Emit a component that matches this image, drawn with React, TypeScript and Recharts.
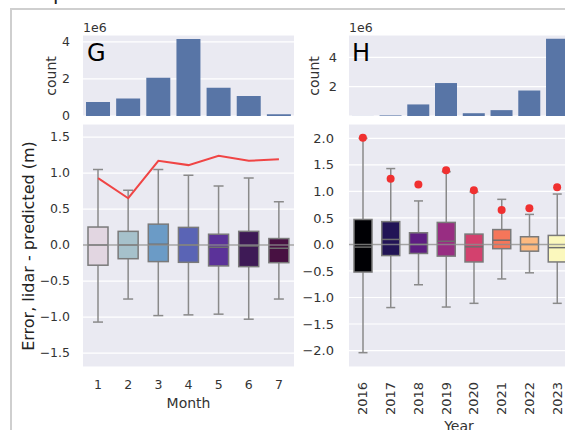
import React from 'react';
import {
  BarChart,
  ComposedChart,
  Bar,
  Line,
  XAxis,
  YAxis,
  CartesianGrid,
  ReferenceLine,
} from 'recharts';

// panel G: by month
const MONTHS = ['1', '2', '3', '4', '5', '6', '7'];
const MONTH_COUNTS = [0.76e6, 0.94e6, 2.07e6, 4.16e6, 1.53e6, 1.08e6, 0.1e6];
const MONTH_LOW = [-1.07, -0.75, -0.98, -0.97, -0.96, -1.03, -0.75];
const MONTH_Q1 = [-0.28, -0.19, -0.23, -0.24, -0.29, -0.3, -0.245];
const MONTH_MED = [0.0, 0.0, 0.01, 0.0, -0.03, -0.015, -0.045];
const MONTH_Q3 = [0.25, 0.19, 0.29, 0.245, 0.15, 0.19, 0.09];
const MONTH_HIGH = [1.05, 0.76, 1.05, 0.97, 0.82, 0.93, 0.6];
const MONTH_PEAK = [0.93, 0.65, 1.17, 1.11, 1.24, 1.17, 1.19];
const MONTH_COLORS = ['#e2d6e1', '#a6c1cb', '#6b9bc6', '#5a64b5', '#5b3299', '#3e1a56', '#481142'];

// panel H: by year
const YEARS = ['2016', '2017', '2018', '2019', '2020', '2021', '2022', '2023'];
const YEAR_COUNTS = [0.005e6, 0.04e6, 0.79e6, 2.25e6, 0.19e6, 0.4e6, 1.74e6, 5.27e6];
const YEAR_LOW = [-2.04, -1.19, -0.76, -1.18, -1.11, -0.65, -0.535, -1.11];
const YEAR_Q1 = [-0.52, -0.21, -0.17, -0.22, -0.33, -0.08, -0.127, -0.33];
const YEAR_MED = [-0.05, 0.094, 0.0, 0.06, -0.045, 0.08, 0.0, -0.06];
const YEAR_Q3 = [0.47, 0.43, 0.22, 0.415, 0.195, 0.28, 0.145, 0.17];
const YEAR_HIGH = [2.0, 1.43, 0.82, 1.37, 0.99, 0.85, 0.566, 0.95];
const YEAR_PEAK = [2.01, 1.24, 1.13, 1.4, 1.02, 0.65, 0.68, 1.08];
const YEAR_COLORS = ['#000004', '#221456', '#5e1d82', '#982d82', '#d3416e', '#f5765a', '#fdb97f', '#fbf8bd'];

const monthData = MONTHS.map((name, i) => ({
  name,
  count: MONTH_COUNTS[i],
  box: [MONTH_Q1[i], MONTH_Q3[i]],
  low: MONTH_LOW[i],
  q1: MONTH_Q1[i],
  med: MONTH_MED[i],
  q3: MONTH_Q3[i],
  high: MONTH_HIGH[i],
  peak: MONTH_PEAK[i],
  color: MONTH_COLORS[i],
}));

const yearData = YEARS.map((name, i) => ({
  name,
  count: YEAR_COUNTS[i],
  box: [YEAR_Q1[i], YEAR_Q3[i]],
  low: YEAR_LOW[i],
  q1: YEAR_Q1[i],
  med: YEAR_MED[i],
  q3: YEAR_Q3[i],
  high: YEAR_HIGH[i],
  peak: YEAR_PEAK[i],
  color: YEAR_COLORS[i],
}));

const BG = '#eaeaf2';
const TXT = '#333';
const GRAY = '#8a8a8a';
const BAR_BLUE = '#5875a6';

const fmtErr = (v: number) => (Math.abs(v) < 1e-9 ? '0.0' : v.toFixed(1).replace('-', '\u2212'));
const fmtCount = (v: number) => String(Math.round(v / 1e6));

// box drawn from the q1..q3 range bar; whiskers scaled off the bar's own pixels
function BoxShape(props: any) {
  const { x, y, width, height, payload } = props;
  const top = Math.min(y, y + height);
  const h = Math.abs(height);
  const ppu = h / (payload.q3 - payload.q1);
  const toY = (v: number) => top + (payload.q3 - v) * ppu;
  const cx = x + width / 2;
  const cap = width / 4;
  return (
    <g>
      <line x1={cx} x2={cx} y1={toY(payload.high)} y2={top} stroke={GRAY} strokeWidth={1.5} />
      <line x1={cx} x2={cx} y1={top + h} y2={toY(payload.low)} stroke={GRAY} strokeWidth={1.5} />
      <line x1={cx - cap} x2={cx + cap} y1={toY(payload.high)} y2={toY(payload.high)} stroke={GRAY} strokeWidth={1.5} />
      <line x1={cx - cap} x2={cx + cap} y1={toY(payload.low)} y2={toY(payload.low)} stroke={GRAY} strokeWidth={1.5} />
      <rect x={x} y={top} width={width} height={h} fill={payload.color} stroke="#7a7a7a" strokeWidth={1.5} />
      <line x1={x} x2={x + width} y1={toY(payload.med)} y2={toY(payload.med)} stroke="#6e6e6e" strokeWidth={1.5} />
    </g>
  );
}

function YearTick({ x, y, payload }: any) {
  return (
    <text
      x={x}
      y={y}
      transform={`rotate(-90, ${x}, ${y})`}
      textAnchor="end"
      dominantBaseline="central"
      fontSize={13}
      fill={TXT}
    >
      {payload.value}
    </text>
  );
}

export default function App() {
  return (
    <div
      style={{
        position: 'absolute',
        left: 0,
        top: 0,
        width: 565,
        height: 430,
        overflow: 'hidden',
        background: '#fff',
        fontFamily: 'DejaVu Sans, sans-serif',
      }}
    >
      {/* G counts */}
      <div style={{ position: 'absolute', left: 0, top: 0 }}>
        <BarChart width={294} height={124} data={monthData} margin={{ top: 35, right: 0, bottom: 8, left: 0 }} barCategoryGap="10%">
          <CartesianGrid vertical={false} fill={BG} stroke="#fff" strokeWidth={1.2} />
          <XAxis dataKey="name" hide />
          <YAxis
            width={83}
            domain={[0, 4.37e6]}
            ticks={[0, 2e6, 4e6]}
            interval={0}
            tickFormatter={fmtCount}
            tick={{ fill: TXT, fontSize: 12.5 }}
            axisLine={false}
            tickLine={false}
            tickSize={0}
            tickMargin={13}
            allowDataOverflow
          />
          <Bar dataKey="count" fill={BAR_BLUE} isAnimationActive={false} />
        </BarChart>
      </div>

      {/* G error boxes */}
      <div style={{ position: 'absolute', left: 0, top: 0 }}>
        <ComposedChart width={294} height={430} data={monthData} margin={{ top: 124, right: 0, bottom: 0, left: 0 }}>
          <CartesianGrid vertical={false} fill={BG} stroke="#fff" strokeWidth={1.2} />
          <XAxis
            dataKey="name"
            height={63}
            axisLine={false}
            tickLine={false}
            tickSize={0}
            tickMargin={13}
            tick={{ fill: TXT, fontSize: 12.5 }}
          />
          <YAxis
            width={83}
            domain={[-1.694, 1.681]}
            ticks={[-1.5, -1, -0.5, 0, 0.5, 1, 1.5]}
            interval={0}
            tickFormatter={fmtErr}
            tick={{ fill: TXT, fontSize: 12.5 }}
            axisLine={false}
            tickLine={false}
            tickSize={0}
            tickMargin={13}
            allowDataOverflow
          />
          <Bar dataKey="box" barSize={20} shape={BoxShape} isAnimationActive={false} />
          <ReferenceLine y={0} stroke="#8c8c8c" strokeOpacity={0.8} strokeWidth={1.5} />
          <Line dataKey="peak" stroke="#f04545" strokeWidth={2} dot={false} isAnimationActive={false} />
        </ComposedChart>
      </div>

      {/* H counts */}
      <div style={{ position: 'absolute', left: 290, top: 0 }}>
        <BarChart width={281} height={124} data={yearData} margin={{ top: 35, right: 0, bottom: 8, left: 0 }} barCategoryGap="10%">
          <CartesianGrid vertical={false} fill={BG} stroke="#fff" strokeWidth={1.2} />
          <XAxis dataKey="name" hide />
          <YAxis
            width={59}
            domain={[0, 5.53e6]}
            ticks={[2e6, 4e6]}
            interval={0}
            tickFormatter={fmtCount}
            tick={{ fill: TXT, fontSize: 13 }}
            axisLine={false}
            tickLine={false}
            tickSize={0}
            tickMargin={12}
            allowDataOverflow
          />
          <Bar dataKey="count" fill={BAR_BLUE} isAnimationActive={false} />
        </BarChart>
      </div>

      {/* H error boxes */}
      <div style={{ position: 'absolute', left: 290, top: 0 }}>
        <ComposedChart width={281} height={430} data={yearData} margin={{ top: 124, right: 0, bottom: 0, left: 0 }}>
          <CartesianGrid vertical={false} fill={BG} stroke="#fff" strokeWidth={1.2} />
          <XAxis
            dataKey="name"
            height={63}
            axisLine={false}
            tickLine={false}
            tickSize={0}
            tickMargin={15}
            tick={<YearTick />}
            interval={0}
          />
          <YAxis
            width={59}
            domain={[-2.31, 2.27]}
            ticks={[-2, -1.5, -1, -0.5, 0, 0.5, 1, 1.5, 2]}
            interval={0}
            tickFormatter={fmtErr}
            tick={{ fill: TXT, fontSize: 13 }}
            axisLine={false}
            tickLine={false}
            tickSize={0}
            tickMargin={15}
            allowDataOverflow
          />
          <Bar dataKey="box" barSize={18} shape={BoxShape} isAnimationActive={false} />
          <ReferenceLine y={0} stroke="#8c8c8c" strokeOpacity={0.8} strokeWidth={1.5} />
          <Line
            dataKey="peak"
            stroke="none"
            dot={{ r: 4, fill: '#f03030', stroke: 'none' }}
            isAnimationActive={false}
          />
        </ComposedChart>
      </div>

      {/* labels and frame */}
      <svg width={565} height={430} style={{ position: 'absolute', left: 0, top: 0, pointerEvents: 'none' }}>
        <path d="M11 430 L11 9 L565 9" fill="none" stroke="#cfcfcf" strokeWidth={2} />
        <text x={53} y={0} fontSize={20} fill="#222">p</text>
        <text x={83} y={32} fontSize={12.5} fill={TXT}>1e6</text>
        <text x={349} y={32} fontSize={12.5} fill={TXT}>1e6</text>
        <text x={87} y={61} fontSize={24} fill="#000">G</text>
        <text x={352} y={61} fontSize={24} fill="#000">H</text>
        <text x={51} y={76} fontSize={14} fill={TXT} textAnchor="middle" dominantBaseline="central" transform="rotate(-90, 51, 76)">count</text>
        <text x={314} y={76} fontSize={14} fill={TXT} textAnchor="middle" dominantBaseline="central" transform="rotate(-90, 314, 76)">count</text>
        <text x={28} y={246} fontSize={16} fill="#222" textAnchor="middle" dominantBaseline="central" transform="rotate(-90, 28, 246)">Error, lidar - predicted (m)</text>
        <text x={188.5} y={408} fontSize={14} fill={TXT} textAnchor="middle">Month</text>
        <text x={459} y={431} fontSize={14} fill={TXT} textAnchor="middle">Year</text>
      </svg>
    </div>
  );
}
